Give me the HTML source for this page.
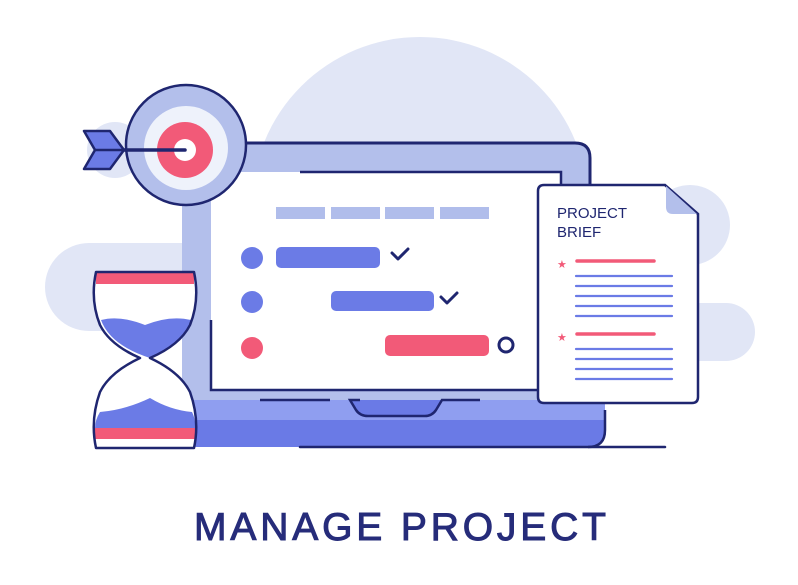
<!DOCTYPE html>
<html><head><meta charset="utf-8"><style>
html,body{margin:0;padding:0;background:#fff;}
svg{display:block;}
</style></head><body>
<svg width="798" height="585" viewBox="0 0 798 585" xmlns="http://www.w3.org/2000/svg">
<g fill="#e1e6f6">
<circle cx="420" cy="205" r="168"/>
<rect x="45" y="243" width="180" height="88" rx="44"/>
<rect x="540" y="303" width="215" height="58" rx="29"/>
<circle cx="690" cy="225" r="40"/>
<circle cx="115" cy="150" r="28"/>
</g>
<rect x="182" y="143" width="408" height="262" rx="14" fill="#b3bfeb"/>
<path d="M240 143 H575 Q590 143 590 158 V185" fill="none" stroke="#1f2670" stroke-width="3" stroke-linecap="round"/>
<rect x="211" y="172" width="350" height="218" fill="#fff"/>
<path d="M211 320 V390 H540" fill="none" stroke="#1f2670" stroke-width="2.5"/>
<path d="M300 172 H561 V200" fill="none" stroke="#1f2670" stroke-width="2.5"/>
<path d="M180 400 H605 V430 Q605 447 588 447 H197 Q180 447 180 430 Z" fill="#6a7ae6"/>
<path d="M180 400 H350 L356 410 Q360 416 368 416 H425 Q432 416 436 410 L442 400 H605 V420 H180 Z" fill="#8f9ef0"/>
<path d="M260 400 H330 M360 400 H350 L356 410 Q360 416 368 416 H425 Q432 416 436 410 L442 400 H480" fill="none" stroke="#1f2670" stroke-width="2.5"/>
<path d="M605 410 V430 Q605 447 588 447" fill="none" stroke="#1f2670" stroke-width="2.5"/>
<line x1="300" y1="447" x2="665" y2="447" stroke="#1f2670" stroke-width="2.5" stroke-linecap="round"/>
<g fill="#b0bdeb">
<rect x="276" y="207" width="49" height="12"/><rect x="331" y="207" width="49" height="12"/>
<rect x="385" y="207" width="49" height="12"/><rect x="440" y="207" width="49" height="12"/>
</g>
<circle cx="252" cy="258" r="11" fill="#6b7be6"/>
<circle cx="252" cy="302" r="11" fill="#6b7be6"/>
<circle cx="252" cy="348" r="11" fill="#f25a78"/>
<rect x="276" y="247" width="104" height="21" rx="5" fill="#6b7be6"/>
<rect x="331" y="291" width="103" height="20" rx="5" fill="#6b7be6"/>
<rect x="385" y="335" width="104" height="21" rx="5" fill="#f25a78"/>
<path d="M392 253 L398 259 L408 249" fill="none" stroke="#1f2670" stroke-width="3" stroke-linecap="round" stroke-linejoin="round"/>
<path d="M441 297 L447 303 L457 293" fill="none" stroke="#1f2670" stroke-width="3" stroke-linecap="round" stroke-linejoin="round"/>
<circle cx="506" cy="345" r="7" fill="none" stroke="#1f2670" stroke-width="3"/>
<circle cx="186" cy="145" r="60" fill="#b3bfeb" stroke="#1f2670" stroke-width="2.5"/>
<circle cx="186" cy="148" r="42" fill="#eef2fb"/>
<circle cx="185" cy="150" r="28" fill="#f25a78"/>
<circle cx="185" cy="150" r="11" fill="#fff"/>
<line x1="120" y1="150" x2="185" y2="150" stroke="#1f2670" stroke-width="3.5" stroke-linecap="round"/>
<path d="M84 131 H110 L124 150 L110 169 H84 L95 150 Z" fill="#6b7be6" stroke="#1f2670" stroke-width="2.5" stroke-linejoin="round"/>
<path d="M95 150 H130" stroke="#1f2670" stroke-width="2.5"/>
<path d="M96 272 H194 Q200 300 190 325 Q180 345 150 358 Q180 372 190 392 Q200 420 194 448 H96 Q90 420 100 392 Q110 372 140 358 Q110 345 100 325 Q90 300 96 272 Z" fill="#fff"/>
<path d="M101 320 Q120 315 145 325 Q170 315 191 320 Q182 345 150 358 Q110 345 101 320 Z" fill="#6b7be6"/>
<path d="M95 428 Q95 420 100 412 Q125 410 150 398 Q170 410 192 412 Q196 420 195 428 Z" fill="#6b7be6"/>
<rect x="96" y="273" width="98" height="11" fill="#f25a78"/>
<rect x="95" y="428" width="100" height="11" fill="#f25a78"/>
<path d="M96 272 H194 Q200 300 190 325 Q180 345 150 358 Q180 372 190 392 Q200 420 194 448 H96 Q90 420 100 392 Q110 372 140 358 Q110 345 100 325 Q90 300 96 272 Z" fill="none" stroke="#1f2670" stroke-width="2.5" stroke-linejoin="round"/>
<path d="M544 185 H665 L698 214 V397 Q698 403 692 403 H544 Q538 403 538 397 V191 Q538 185 544 185 Z" fill="#fff" stroke="#1f2670" stroke-width="2.5"/>
<path d="M666 186 V207 Q666 214 673 214 H697 Z" fill="#b3bfeb"/>
<text x="557" y="218" font-family="Liberation Sans, sans-serif" font-size="15" fill="#1f2670">PROJECT</text>
<text x="557" y="237" font-family="Liberation Sans, sans-serif" font-size="15" fill="#1f2670">BRIEF</text>
<text x="557" y="268" font-family="Liberation Sans, sans-serif" font-size="11" fill="#f25a78">★</text>
<text x="557" y="341" font-family="Liberation Sans, sans-serif" font-size="11" fill="#f25a78">★</text>
<g stroke-linecap="round">
<line x1="577" y1="261" x2="654" y2="261" stroke="#f25a78" stroke-width="3.5"/>
<line x1="577" y1="334" x2="654" y2="334" stroke="#f25a78" stroke-width="3.5"/>
<g stroke="#6b7be6" stroke-width="2.2">
<line x1="576" y1="276" x2="672" y2="276"/><line x1="576" y1="286" x2="672" y2="286"/>
<line x1="576" y1="296" x2="672" y2="296"/><line x1="576" y1="306" x2="672" y2="306"/>
<line x1="576" y1="316" x2="672" y2="316"/>
<line x1="576" y1="349" x2="672" y2="349"/><line x1="576" y1="359" x2="672" y2="359"/>
<line x1="576" y1="369" x2="672" y2="369"/><line x1="576" y1="379" x2="672" y2="379"/>
</g></g>
<text x="194" y="540" textLength="412" lengthAdjust="spacing" font-family="Liberation Sans, sans-serif" font-size="39" fill="#262c7a" stroke="#262c7a" stroke-width="1">MANAGE PROJECT</text>
</svg>
</body></html>
